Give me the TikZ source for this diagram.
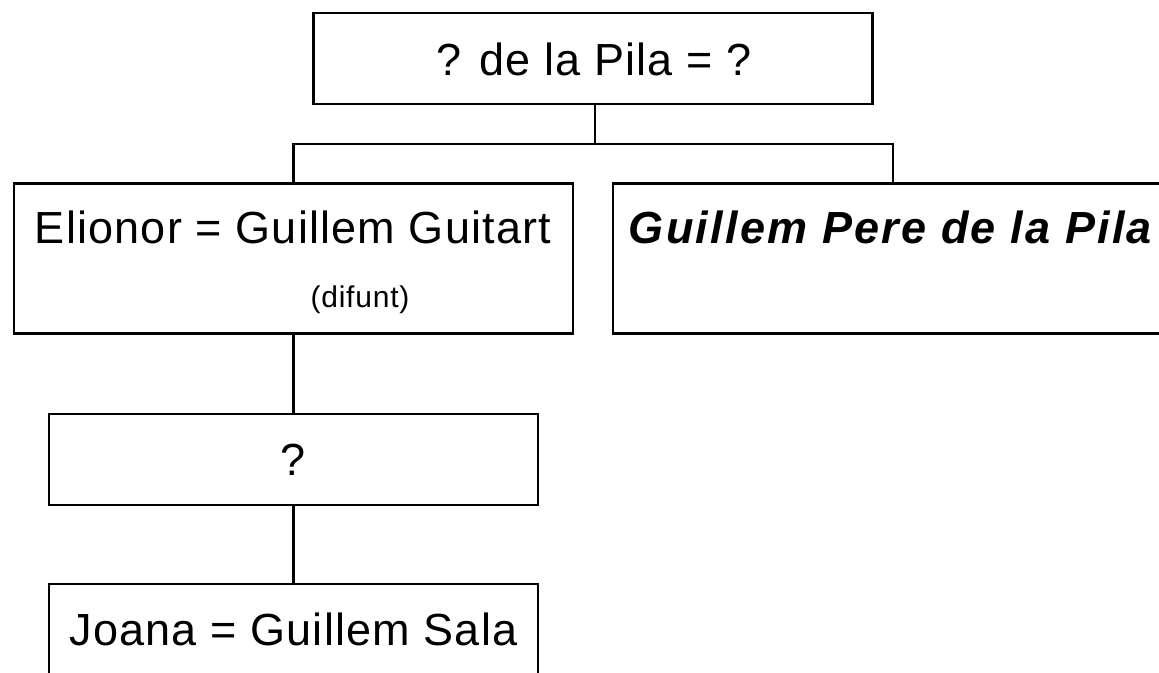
\documentclass[tikz,border=0pt]{standalone}
\usepackage{fontspec}
\setmainfont{Liberation Sans}
\newfontfamily\boxfont[LetterSpace=2.6]{Liberation Sans}
\newfontfamily\boxfontbi[LetterSpace=5, BoldItalicFont={* Bold Italic}]{Liberation Sans}
\usetikzlibrary{positioning}

\begin{document}
\begin{tikzpicture}[x=1pt, y=-1pt,
    famBox/.style={draw, line width=2.8pt, rectangle, inner sep=0pt, minimum height=#1},
    famText/.style={anchor=base, font=\boxfont\fontsize{45}{54}\selectfont},
    line width=2.8pt]

    % Picture frame
    \useasboundingbox (0,0) rectangle (1159,672);
    \clip (0,0) rectangle (1159,672);

    % Top couple
    \node[famBox=91, minimum width=559] (top) at (593,58.5) {};
    \node[famText] (toptxt) at (594,75) {? de la Pila = ?};

    % Children of the top couple
    \node[famBox=150, minimum width=559] (elionor) at (293.5,258.5) {};
    \node[famText] (elionortxt) at (293,243) {Elionor = Guillem Guitart};
    \node[anchor=base, font=\boxfont\fontsize{30}{36}\selectfont] (difunt) at (360,307) {(difunt)};

    \node[famBox=150, minimum width=560] (pere) at (893,258.5) {};
    \node[anchor=base west, font=\boxfontbi\fontsize{45}{54}\selectfont\bfseries\itshape] (peretxt) at (624,243) {Guillem Pere de la Pila};

    % Next generations
    \node[famBox=91, minimum width=489] (unknown) at (293.5,459.5) {};
    \node[famText] (unknowntxt) at (293.5,475) {?};

    \node[famBox=100, minimum width=489] (joana) at (293.5,634) {};
    \node[famText] (joanatxt) at (293.5,645) {Joana = Guillem Sala};

    % Connectors
    \coordinate (fork) at (595,144);
    \draw (top.south -| fork) -- (fork);
    \draw (elionor.north) |- (fork) -| (pere.north);
    \draw (elionor.south) -- (unknown.north);
    \draw (unknown.south) -- (joana.north);

\end{tikzpicture}
\end{document}
